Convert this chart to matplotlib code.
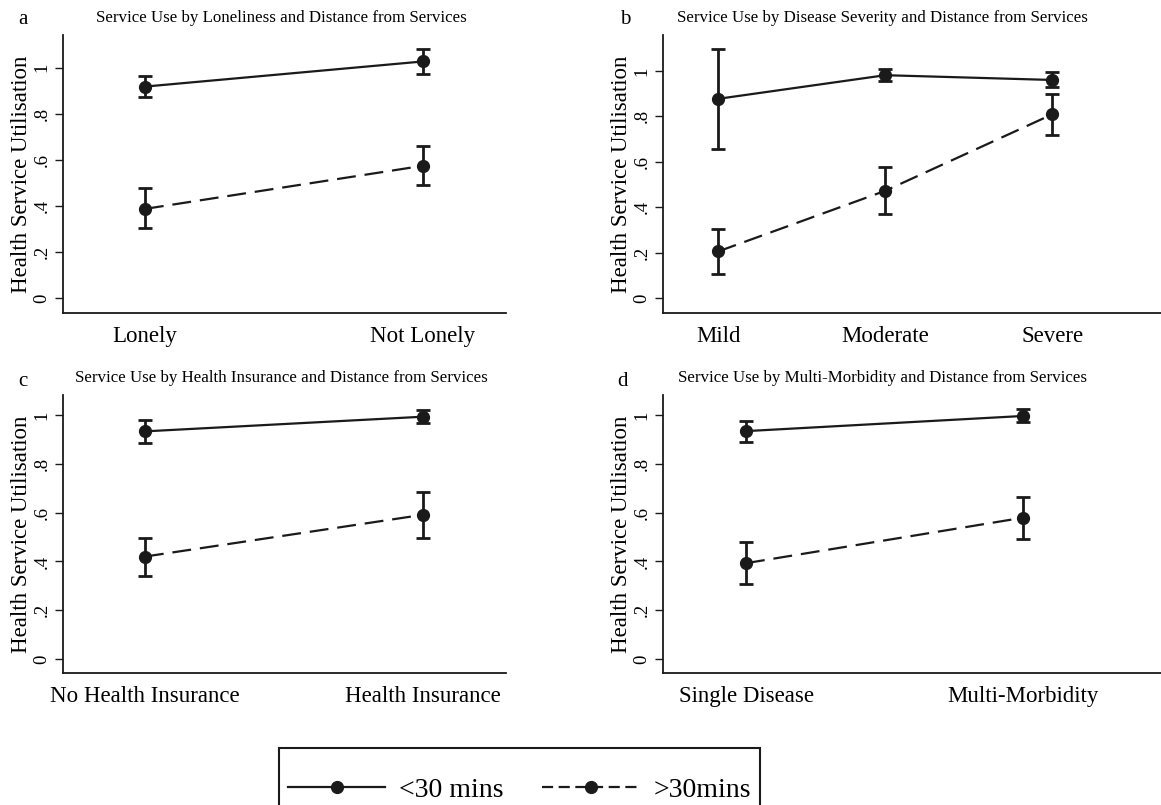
import numpy as np
import matplotlib
matplotlib.use("Agg")
import matplotlib.pyplot as plt
from matplotlib.lines import Line2D
from matplotlib.patches import Rectangle

plt.rcParams['font.family'] = ['Liberation Serif', 'DejaVu Serif']

# panel a: loneliness
cats_a = ["Lonely", "Not Lonely"]
near_a = [0.918, 1.027]
near_a_lo = [0.871, 0.974]
near_a_hi = [0.964, 1.081]
far_a = [0.387, 0.574]
far_a_lo = [0.302, 0.491]
far_a_hi = [0.477, 0.658]

# panel b: disease severity
cats_b = ["Mild", "Moderate", "Severe"]
near_b = [0.877, 0.981, 0.960]
near_b_lo = [0.657, 0.956, 0.928]
near_b_hi = [1.097, 1.009, 0.993]
far_b = [0.205, 0.472, 0.809]
far_b_lo = [0.107, 0.371, 0.718]
far_b_hi = [0.303, 0.575, 0.900]

# panel c: health insurance
cats_c = ["No Health Insurance", "Health Insurance"]
near_c = [0.933, 0.993]
near_c_lo = [0.887, 0.969]
near_c_hi = [0.978, 1.020]
far_c = [0.420, 0.591]
far_c_lo = [0.342, 0.495]
far_c_hi = [0.498, 0.685]

# panel d: multi-morbidity
cats_d = ["Single Disease", "Multi-Morbidity"]
near_d = [0.934, 0.996]
near_d_lo = [0.891, 0.971]
near_d_hi = [0.977, 1.023]
far_d = [0.393, 0.579]
far_d_lo = [0.308, 0.492]
far_d_hi = [0.479, 0.663]

titles = ["Service Use by Loneliness and Distance from Services",
          "Service Use by Disease Severity and Distance from Services",
          "Service Use by Health Insurance and Distance from Services",
          "Service Use by Multi-Morbidity and Distance from Services"]
letters = ["a", "b", "c", "d"]
yticks = [0, 0.2, 0.4, 0.6, 0.8, 1.0]
ytick_labels = ["0", ".2", ".4", ".6", ".8", "1"]

W, H = 1161, 805
fig = plt.figure(figsize=(W / 100, H / 100), dpi=100)
col = '#1a1a1a'


def rect(l, t, r, b):
    return [l / W, 1 - b / H, (r - l) / W, (b - t) / H]


panels = [
    (cats_a, near_a, near_a_lo, near_a_hi, far_a, far_a_lo, far_a_hi,
     rect(63, 35, 506, 313), (-0.295, 1.30), (-0.065, 1.142), (23, 20), 0.492),
    (cats_b, near_b, near_b_lo, near_b_hi, far_b, far_b_lo, far_b_hi,
     rect(663, 35, 1161, 313), (-0.33, 2.65), (-0.066, 1.158), (625, 20), 0.44),
    (cats_c, near_c, near_c_lo, near_c_hi, far_c, far_c_lo, far_c_hi,
     rect(63, 395, 506, 673), (-0.295, 1.30), (-0.057, 1.082), (23, 381), 0.492),
    (cats_d, near_d, near_d_lo, near_d_hi, far_d, far_d_lo, far_d_hi,
     rect(663, 395, 1161, 673), (-0.30, 1.50), (-0.057, 1.082), (623, 381), 0.44),
]

for i, (cats, nr, nlo, nhi, fr, flo, fhi, r, xl, yl, lp, tx) in enumerate(panels):
    ax = fig.add_axes(r)
    x = np.arange(len(cats))
    for y, lo, hi, ls in [(nr, nlo, nhi, '-'), (fr, flo, fhi, '--')]:
        y = np.array(y)
        err = [y - np.array(lo), np.array(hi) - y]
        ax.errorbar(x, y, yerr=err, fmt='none', ecolor=col, elinewidth=2,
                    capsize=5, capthick=2)
        line, = ax.plot(x, y, color=col, lw=1.6, ls=ls, marker='o', ms=8.5)
        if ls == '--':
            line.set_dashes((8.5, 4))
    ax.set_xlim(*xl)
    ax.set_ylim(*yl)
    ax.set_xticks(x)
    ax.set_xticklabels(cats, fontsize=16.5)
    ax.set_yticks(yticks)
    ax.set_yticklabels(ytick_labels, fontsize=13.5, rotation=90, va='center')
    ax.tick_params(axis='x', length=0, pad=9)
    ax.tick_params(axis='y', length=6, width=1, color=col, pad=3)
    for s in ['top', 'right']:
        ax.spines[s].set_visible(False)
    for s in ['left', 'bottom']:
        ax.spines[s].set_linewidth(1.3)
        ax.spines[s].set_color(col)
    ax.set_ylabel("Health Service Utilisation", fontsize=16.5, labelpad=1)
    ax.set_title(titles[i], fontsize=12.2, pad=9, x=tx)
    fig.text(lp[0] / W, 1 - lp[1] / H, letters[i], fontsize=15,
             ha='center', va='center')

handles = [Line2D([], [], color=col, lw=1.6, ls='-', marker='o', ms=8.5),
           Line2D([], [], color=col, lw=1.6, ls=(0, (5, 2.5)), marker='o', ms=8.5)]
fig.legend(handles, ["<30 mins", ">30mins"], loc='center',
           bbox_to_anchor=(519.5 / W, 1 - 790 / H), ncol=2, frameon=False,
           fontsize=20, handlelength=3.5, handletextpad=0.5,
           columnspacing=1.4)
fig.patches.append(Rectangle((279 / W, 1 - 840 / H), (760 - 279) / W,
                             (840 - 748) / H, transform=fig.transFigure,
                             fill=False, lw=1.5, ec=col))

fig.savefig("out.png", dpi=100)
